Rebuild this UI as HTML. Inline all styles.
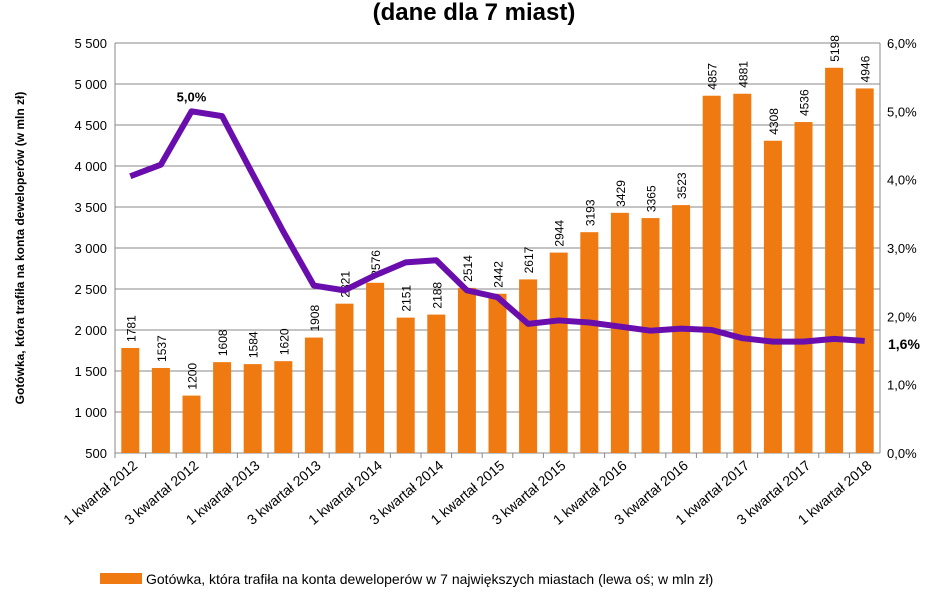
<!DOCTYPE html><html><head><meta charset="utf-8"><style>body{margin:0;background:#fff;font-family:"Liberation Sans",sans-serif}</style></head><body>
<svg id="s" width="948" height="593" xmlns="http://www.w3.org/2000/svg" font-family="Liberation Sans, sans-serif"></svg>
<script>
const s=document.getElementById('s');let h='';
const L=115,R=880,T=43,B=453;
const v=[1781,1537,1200,1608,1584,1620,1908,2321,2576,2151,2188,2514,2442,2617,2944,3193,3429,3365,3523,4857,4881,4308,4536,5198,4946];
const p=[4.05,4.22,5.0,4.93,4.08,3.24,2.45,2.38,2.6,2.79,2.82,2.38,2.28,1.89,1.94,1.91,1.85,1.79,1.82,1.80,1.68,1.63,1.63,1.67,1.64];
const n=v.length,w=(R-L)/n;
const y=x=>B-(x-500)*(B-T)/5000, yp=x=>B-x*(B-T)/6;
h+=`<text x="474" y="20" text-anchor="middle" font-size="24" font-weight="bold">(dane dla 7 miast)</text>`;
for(let i=0;i<=10;i++){const k=500+i*500,yy=y(k);h+=`<line x1="${L}" x2="${R}" y1="${yy}" y2="${yy}" stroke="#888" stroke-width="1"/>`;
h+=`<text x="${L-8}" y="${yy+5}" text-anchor="end" font-size="13">${k>=1000?Math.floor(k/1000)+' '+String(k%1000).padStart(3,'0'):k}</text>`;}
for(let i=0;i<=6;i++){h+=`<text x="${R+7}" y="${yp(i)+5}" font-size="13">${i},0%</text>`;}
h+=`<line x1="${L}" x2="${L}" y1="${T}" y2="${B}" stroke="#888"/><line x1="${R}" x2="${R}" y1="${T}" y2="${B}" stroke="#888"/>`;
for(let i=0;i<n;i++){const cx=L+w*(i+.5),yy=y(v[i]);h+=`<rect x="${cx-9}" y="${yy}" width="18" height="${B-yy}" fill="#f07a12"/>`;
h+=`<text transform="translate(${cx+5},${yy-6}) rotate(-90)" font-size="12">${v[i]}</text>`;
h+=`<line x1="${L+w*i}" x2="${L+w*i}" y1="${B}" y2="${B+5}" stroke="#888"/>`;
if(i%2==0){const q=2012+Math.floor(i/4),kw=i%4==0?1:3;h+=`<text transform="translate(${cx+8},${B+14}) rotate(-40)" text-anchor="end" font-size="14">${kw} kwartał ${q}</text>`;}}
h+=`<polyline fill="none" stroke="#6a0dad" stroke-width="6" stroke-linejoin="round" points="${p.map((q,i)=>(L+w*(i+.5))+','+yp(q)).join(' ')}"/>`;
h+=`<text x="${L+w*2.5}" y="${yp(5)-10}" text-anchor="middle" font-size="13" font-weight="bold">5,0%</text>`;
h+=`<text x="${R+8}" y="${yp(1.64)+8}" font-size="14" font-weight="bold">1,6%</text>`;
h+=`<text transform="translate(24,248) rotate(-90)" text-anchor="middle" font-size="12" font-weight="bold">Gotówka, która trafiła na konta deweloperów  (w mln zł)</text>`;
h+=`<rect x="100" y="573" width="42" height="11" fill="#f07a12"/><text x="146" y="584" font-size="14">Gotówka, która trafiła na konta deweloperów w 7 największych miastach (lewa oś; w mln zł)</text>`;
s.innerHTML=h;
</script></body></html>
